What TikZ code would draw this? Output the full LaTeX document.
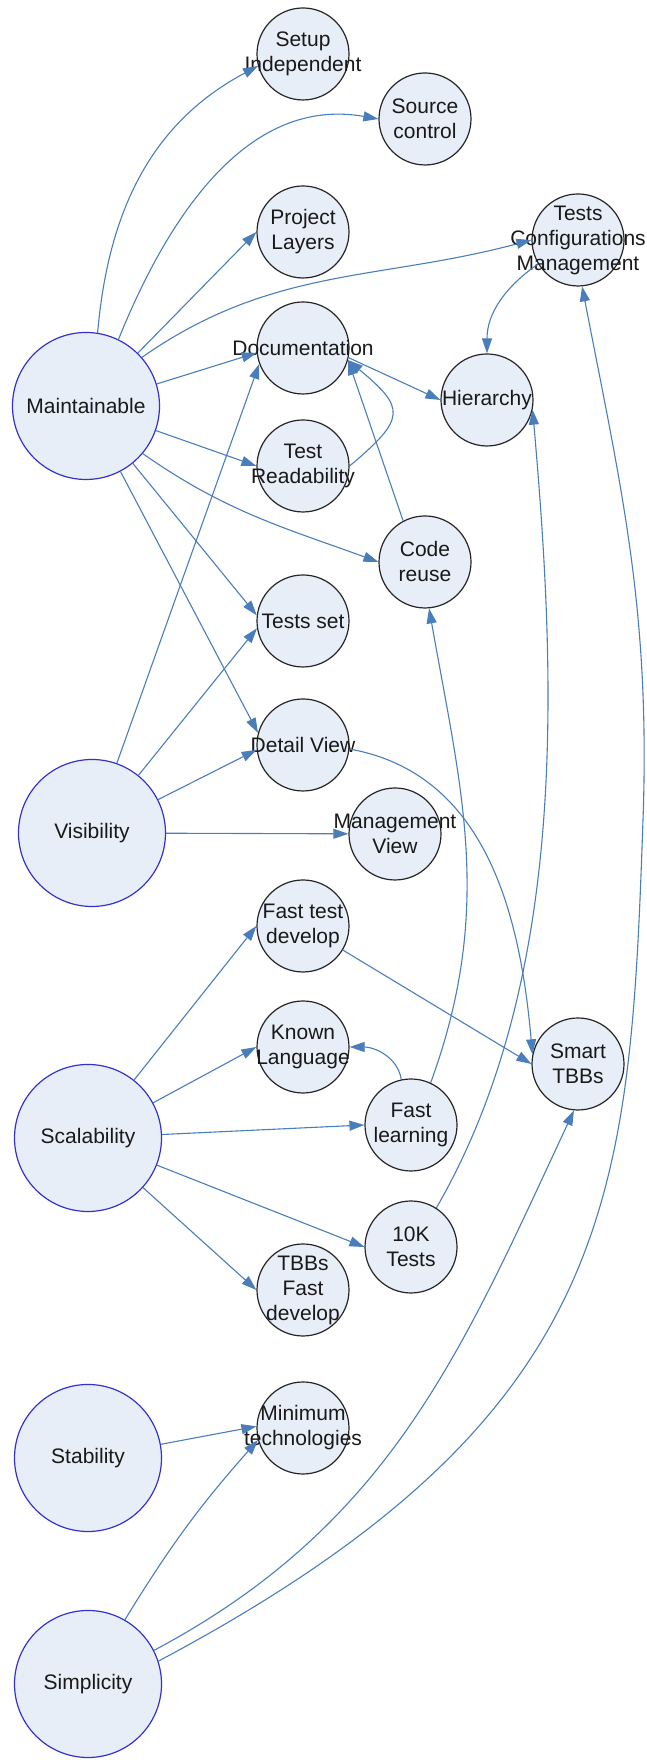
\documentclass[tikz,border=0pt]{standalone}
\usepackage{fontspec}
\setmainfont{Liberation Sans}
\usepackage{xcolor}
\usepackage{tikz}
\usetikzlibrary{positioning, arrows.meta}

\definecolor{linkblue}{RGB}{74,126,187}
\definecolor{bubble}{RGB}{232,238,248}
\definecolor{rimblue}{RGB}{51,51,204}

\begin{document}
\begin{tikzpicture}[
        x=1pt, y=1pt,
        every label/.style={font=\fontsize{21}{25}\selectfont, align=center, text=black!90, inner sep=0pt},
        quality/.style={circle, draw=rimblue, line width=1.2pt, fill=bubble, minimum size=147pt, inner sep=0pt},
        feature/.style={circle, draw=black!85, line width=1.2pt, fill=bubble, minimum size=92pt, inner sep=0pt},
        link/.style={draw=linkblue, line width=1.1pt, -{Triangle[length=15pt, width=10pt]}},
    ]
        \useasboundingbox (0,0) rectangle (646,1760);

        % Nodes
        \node[quality, label={center:Maintainable}] (maint) at (86,1354) {};
        \node[quality, label={center:Visibility}] (visib) at (92,927) {};
        \node[quality, label={center:Scalability}] (scal) at (88,622) {};
        \node[quality, label={center:Stability}] (stab) at (88,302) {};
        \node[quality, label={center:Simplicity}] (simp) at (88,76) {};

        \node[feature, label={center:Setup\\Independent}] (setup) at (303,1706) {};
        \node[feature, label={center:Source\\control}] (source) at (425,1641) {};
        \node[feature, label={center:Project\\Layers}] (layers) at (303,1528) {};
        \node[feature, label={center:Tests\\Configurations\\Management}] (tcm) at (578,1520) {};
        \node[feature, label={center:Documentation}] (docu) at (303,1412) {};
        \node[feature, label={center:Hierarchy}] (hier) at (487,1360) {};
        \node[feature, label={center:Test\\Readability}] (readab) at (303,1294) {};
        \node[feature, label={center:Code\\reuse}] (reuse) at (425,1198) {};
        \node[feature, label={center:Tests set}] (testsset) at (303,1139) {};
        \node[feature, label={center:Detail View}] (detail) at (303,1015) {};
        \node[feature, label={center:Management\\View}] (mgmt) at (395,926) {};
        \node[feature, label={center:Fast test\\develop}] (fasttest) at (303,834) {};
        \node[feature, label={center:Known\\Language}] (known) at (303,713) {};
        \node[feature, label={center:Smart\\TBBs}] (smart) at (578,696) {};
        \node[feature, label={center:Fast\\learning}] (fastlearn) at (411,635) {};
        \node[feature, label={center:10K\\Tests}] (tenk) at (411,513) {};
        \node[feature, label={center:TBBs\\Fast\\develop}] (tbbs) at (303,470) {};
        \node[feature, label={center:Minimum\\technologies}] (mintech) at (303,332) {};

        \coordinate (rimbend) at (643,940);

        % Arrows
        \draw[link] (maint.81) to[out=85, in=208] (setup.195);
        \draw[link] (maint.64) to[out=68, in=170] (source.west);
        \draw[link] (maint) -- (layers.west);
        \draw[link] (maint.41) to[out=35, in=195] (tcm.west);
        \draw[link] (maint) -- (docu.186);
        \draw[link] (maint) -- (readab.west);
        \draw[link] (maint.-40) to[out=-35, in=160] (reuse.west);
        \draw[link] (maint) -- (testsset.173);
        \draw[link] (maint) -- (detail.165);

        \draw[link] (visib) -- (docu.200);
        \draw[link] (visib) -- (testsset.189);
        \draw[link] (visib) -- (detail.186);
        \draw[link] (visib) -- (mgmt);

        \draw[link] (scal) -- (fasttest.west);
        \draw[link] (scal) -- (known.west);
        \draw[link] (scal) -- (fastlearn.west);
        \draw[link] (scal) -- (tenk.west);
        \draw[link] (scal) -- (tbbs.west);

        \draw[link] (stab) -- (mintech.178);
        \draw[link] (simp) to[bend left=5] (mintech.195);
        \draw[link] (simp.27) to[out=28, in=-115] (smart.-95);
        \draw[link] (simp.18) to[out=28, in=-92, out distance=520pt, in distance=380pt] (rimbend)
            to[out=88, in=-79] (tcm.-85);

        \draw[link] (tcm.211) to[out=215, in=90] (hier.north);
        \draw[link] (docu.-12) -- (hier.west);
        \draw[link] (reuse.118) -- (docu.-15);
        \draw[link] (readab.0) to[out=40, in=-40, looseness=1.8] (docu.-15);
        \draw[link] (detail.355) to[out=-10, in=95] (smart.168);
        \draw[link] (fasttest) -- (smart.west);
        \draw[link] (fastlearn.102) to[out=100, in=0] (known.east);
        \draw[link] (fastlearn.65) to[out=70, in=-80] (reuse.-85);
        \draw[link] (tenk.57) to[out=60, in=-85, looseness=0.85] (hier.-12);
\end{tikzpicture}
\end{document}
